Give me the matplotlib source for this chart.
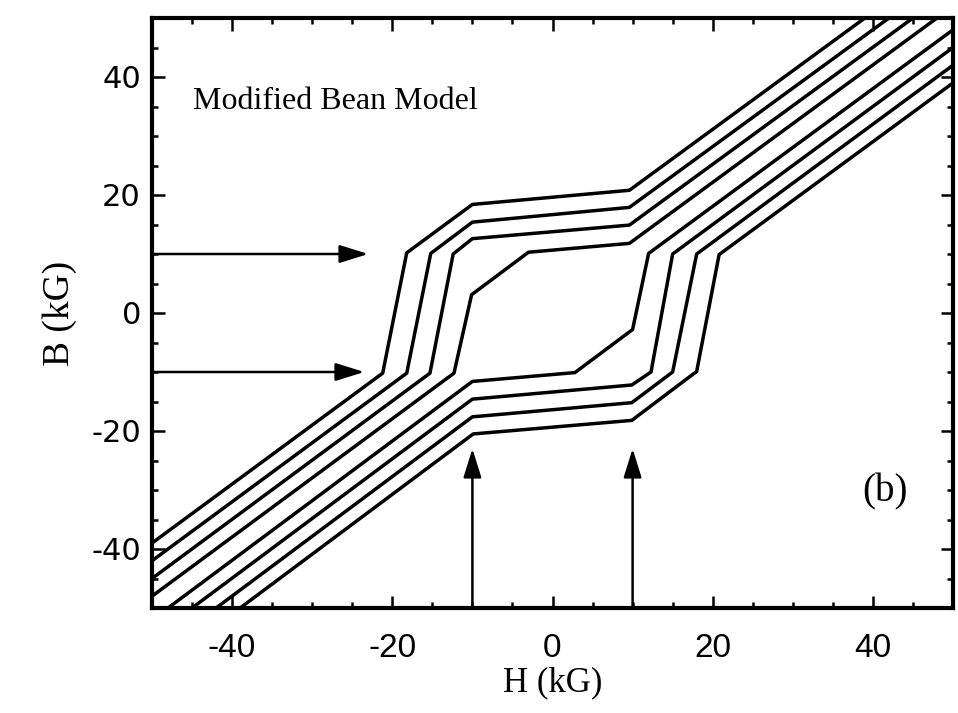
import numpy as np
import matplotlib.pyplot as plt
from matplotlib.ticker import MultipleLocator

plt.rcParams['axes.unicode_minus'] = False

# descending branches (upper set), H and B in kG
h_dn_1 = [-50, -21.2, -18.2, -10.0, 9.6, 39]
b_dn_1 = [-39, -10.2, 10.2, 18.4, 20.8, 50]
h_dn_2 = [-50, -18.2, -15.2, -10.0, 9.6, 42]
b_dn_2 = [-42, -10.2, 10.1, 15.4, 17.9, 50]
h_dn_3 = [-50, -15.3, -12.4, -10.0, 9.6, 45]
b_dn_3 = [-45, -10.2, 10.0, 12.6, 14.9, 50]
h_dn_4 = [-50, -12.3, -10.1, -3.0, 9.6, 48]
b_dn_4 = [-48, -10.2, 3.1, 10.3, 11.8, 50]

# ascending branches (lower set)
h_up_1 = [-39, -9.9, 9.9, 18.0, 20.8, 50]
b_up_1 = [-50, -20.5, -18.2, -9.9, 9.9, 39]
h_up_2 = [-42, -10.0, 9.9, 15.0, 18.0, 50]
b_up_2 = [-50, -17.6, -15.2, -10.0, 10.0, 42]
h_up_3 = [-45, -10.0, 9.9, 12.3, 15.0, 50]
b_up_3 = [-50, -14.6, -12.2, -10.0, 10.0, 45]
h_up_4 = [-48, -10.0, 2.8, 10.0, 12.0, 50]
b_up_4 = [-50, -11.6, -10.1, -2.8, 10.1, 48]

# arrows marking the B = +-10 and H = +-10 levels
arrow_b_levels = [10, -10]
arrow_b_tips = [-23, -23.5]
arrow_h_levels = [-10, 10]
arrow_h_tip = -23

x_ticks = [-40, -20, 0, 20, 40]
y_ticks = [-40, -20, 0, 20, 40]

branches = [
    (h_dn_1, b_dn_1), (h_dn_2, b_dn_2), (h_dn_3, b_dn_3), (h_dn_4, b_dn_4),
    (h_up_1, b_up_1), (h_up_2, b_up_2), (h_up_3, b_up_3), (h_up_4, b_up_4),
]

serif = ['Liberation Serif', 'DejaVu Serif']

fig = plt.figure(figsize=(9.58, 7.13), dpi=100)
ax = fig.add_axes([152 / 958, 1 - 608 / 713, (953 - 152) / 958, (608 - 18) / 713])

for h, b in branches:
    ax.plot(h, b, color='black', lw=2.5, solid_joinstyle='round')

arrow_kw = dict(arrowstyle='-|>,head_length=1.6,head_width=0.5', mutation_scale=11,
                color='black', lw=1.8, shrinkA=0, shrinkB=0)
for lev, tip in zip(arrow_b_levels, arrow_b_tips):
    ax.annotate('', xy=(tip, lev), xytext=(-50, lev), arrowprops=arrow_kw)
for lev in arrow_h_levels:
    ax.annotate('', xy=(lev, arrow_h_tip), xytext=(lev, -50), arrowprops=arrow_kw)

ax.text(-44.9, 34.6, 'Modified Bean Model', family=serif, fontsize=23, va='baseline')
ax.text(41.5, -30.4, '(b)', family=serif, fontsize=28, ha='center', va='center')

ax.set_xlim(-50, 50)
ax.set_ylim(-50, 50)
ax.set_xticks(x_ticks)
ax.set_yticks(y_ticks)
ax.xaxis.set_minor_locator(MultipleLocator(5))
ax.yaxis.set_minor_locator(MultipleLocator(5))
ax.tick_params(which='both', direction='in', top=True, right=True, width=1.8)
ax.tick_params(which='major', length=9)
ax.tick_params(which='minor', length=4.5)
ax.tick_params(axis='x', pad=18)
ax.tick_params(axis='y', pad=8)
for lab in ax.get_xticklabels():
    lab.set_family(['Liberation Sans Narrow', 'Liberation Sans'])
    lab.set_fontsize(24)
for lab in ax.get_yticklabels():
    lab.set_family('DejaVu Sans')
    lab.set_fontsize(22)
for sp in ax.spines.values():
    sp.set_linewidth(3)

ax.set_xlabel('H (kG)', family=serif, fontsize=25, labelpad=2)
ax.set_ylabel('B (kG)', family=serif, fontsize=27, labelpad=10)

fig.savefig('out.png', dpi=100)
